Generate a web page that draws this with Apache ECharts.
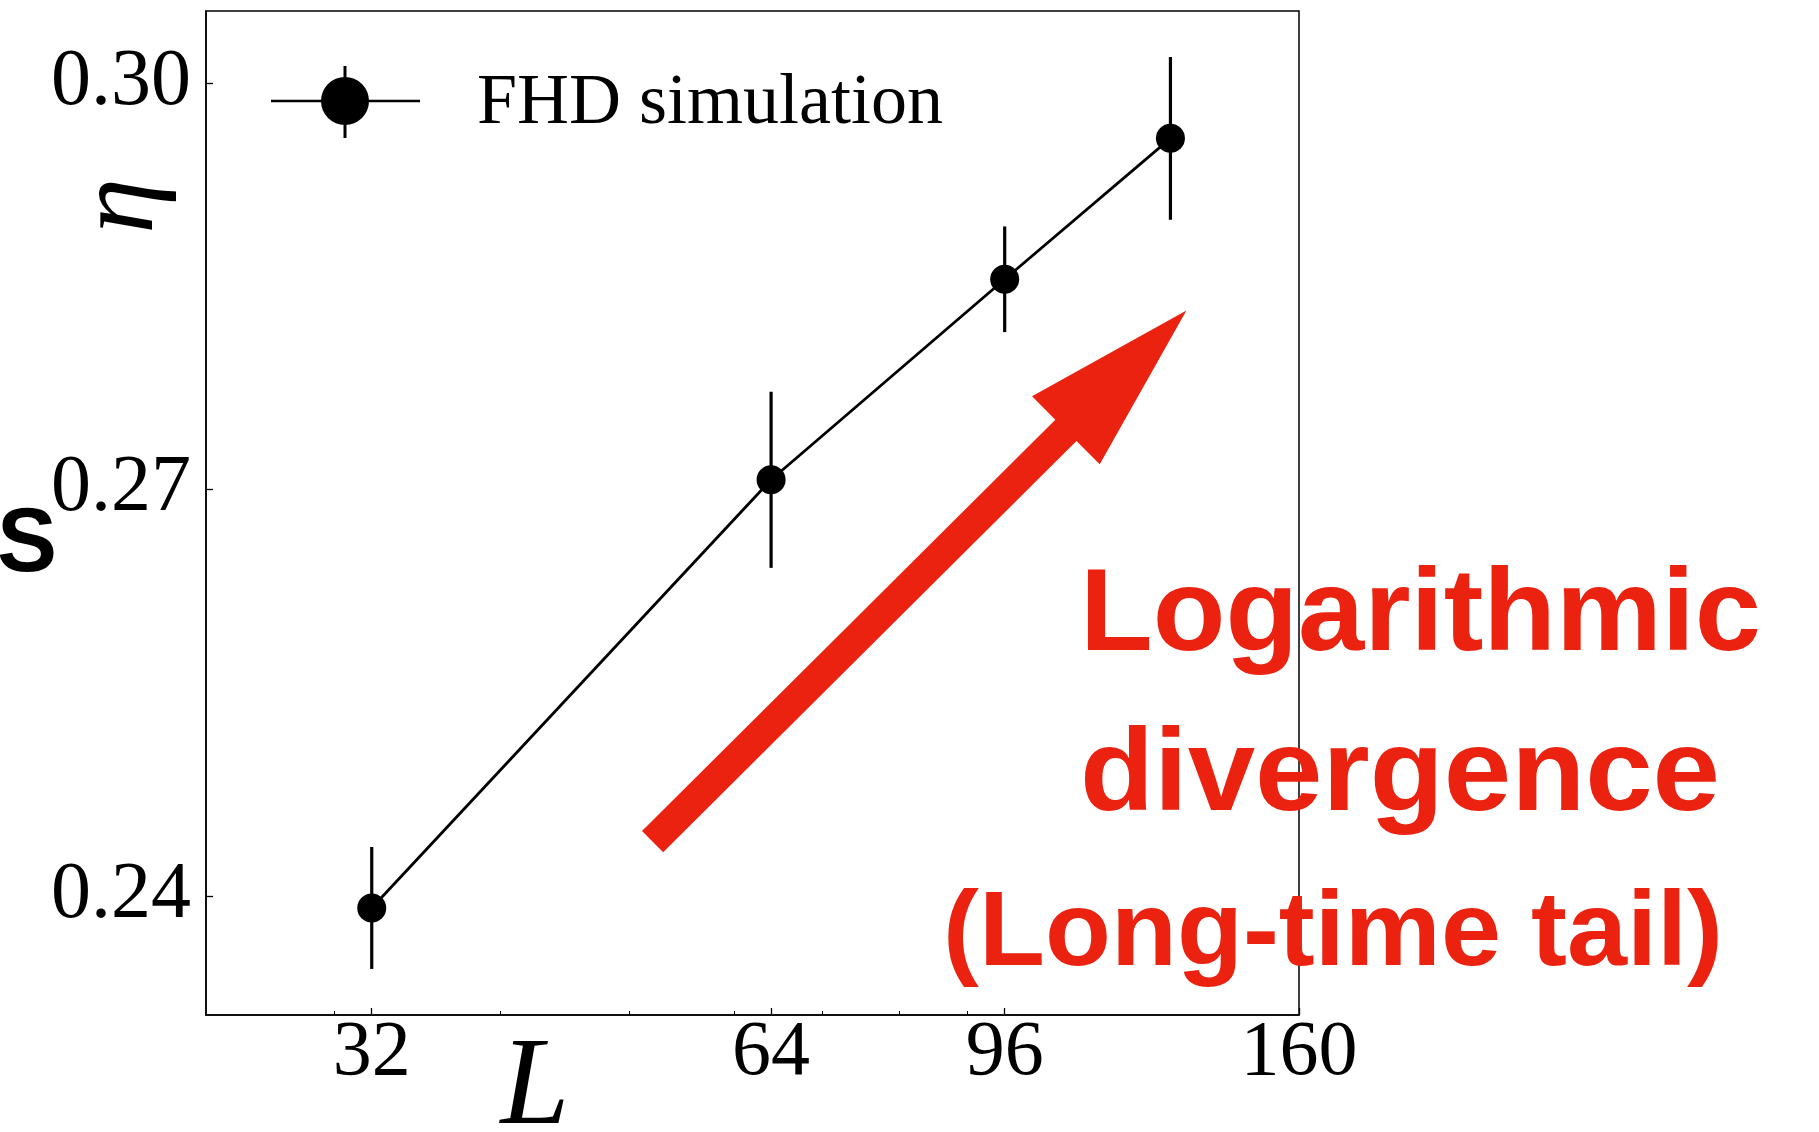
<!DOCTYPE html>
<html><head><meta charset="utf-8">
<script src="https://cdn.jsdelivr.net/npm/echarts@6/dist/echarts.min.js"></script>
<style>html,body{margin:0;padding:0;background:#fff}#c{width:1819px;height:1132px}</style>
</head><body><div id="c"></div>
<script>
// ---- data ----
const sizes = [32, 64, 96, 128];
const eta = [0.2391, 0.2707, 0.2855, 0.2959];
const etaErr = [0.0045, 0.0065, 0.0039, 0.0060];
const xTickValues = [32, 64, 96, 160];
const xMinorTickValues = [30, 40, 50, 60, 70, 80, 90];
const yTickValues = [0.24, 0.27, 0.30];
const legendLabel = 'FHD simulation';
const annotationLines = ['Logarithmic', 'divergence', '(Long-time tail)'];
const arrowTail = [52.1, 0.2440];
const arrowTip = [131.6, 0.2832];

const serif = 'Liberation Serif';
const sans = 'Liberation Sans';
const red = '#ec2210';

const chart = echarts.init(document.getElementById('c'), null, {renderer: 'canvas'});
const points = sizes.map((L, i) => [L, eta[i]]);
const errData = sizes.map((L, i) => [L, eta[i] - etaErr[i], eta[i] + etaErr[i]]);

chart.setOption({
  animation: false,
  backgroundColor: '#fff',
  grid: {left: 206, top: 11, right: 520, bottom: 117, show: true, borderColor: '#000', borderWidth: 1.5},
  xAxis: [{
    type: 'log', min: 24, max: 160, logBase: 10,
    axisLine: {show: true, lineStyle: {color: '#000', width: 1.5}},
    splitLine: {show: false}, minorTick: {show: false},
    axisTick: {show: true, inside: true, length: 7, lineStyle: {color: '#000', width: 1.3}, customValues: xTickValues},
    axisLabel: {customValues: xTickValues, fontFamily: serif, fontSize: 78, color: '#000', margin: 0,
      formatter: v => String(Math.round(v))}
  }, {
    type: 'log', min: 24, max: 160, logBase: 10, position: 'bottom',
    axisLine: {show: false}, splitLine: {show: false},
    axisTick: {show: true, inside: true, length: 4, lineStyle: {color: '#000', width: 1}, customValues: xMinorTickValues},
    axisLabel: {show: false}
  }],
  yAxis: {
    type: 'value', min: 0.2312, max: 0.3053,
    axisLine: {show: true, lineStyle: {color: '#000', width: 1.5}},
    splitLine: {show: false},
    axisTick: {show: true, inside: true, length: 7, lineStyle: {color: '#000', width: 1.3}, customValues: yTickValues},
    axisLabel: {customValues: yTickValues, fontFamily: serif, fontSize: 80, color: '#000', margin: 15,
      formatter: v => v.toFixed(2)}
  },
  series: [{
    type: 'custom', name: 'err', xAxisIndex: 0, yAxisIndex: 0, data: errData, z: 3,
    renderItem: (params, api) => {
      const a = api.coord([api.value(0), api.value(1)]);
      const b = api.coord([api.value(0), api.value(2)]);
      return {type: 'line', shape: {x1: a[0], y1: a[1], x2: b[0], y2: b[1]}, style: {stroke: '#000', lineWidth: 3.2}};
    }
  }, {
    type: 'line', name: legendLabel, data: points, xAxisIndex: 0, yAxisIndex: 0, z: 4,
    symbol: 'circle', symbolSize: 29, showSymbol: true,
    itemStyle: {color: '#000'}, lineStyle: {color: '#000', width: 2.8}
  }]
});

function buildGraphics() {
  const p0 = chart.convertToPixel({xAxisIndex: 0, yAxisIndex: 0}, arrowTail);
  const p1 = chart.convertToPixel({xAxisIndex: 0, yAxisIndex: 0}, arrowTip);
  const dx = p1[0] - p0[0], dy = p1[1] - p0[1];
  const len = Math.hypot(dx, dy);
  const u = [dx / len, dy / len], n = [-u[1], u[0]];
  const headLen = 170, shaftHalf = 15, headHalf = 48;
  const base = [p1[0] - u[0] * headLen, p1[1] - u[1] * headLen];
  const P = (pt, k) => [pt[0] + n[0] * k, pt[1] + n[1] * k];
  const arrowPts = [P(p0, shaftHalf), P(base, shaftHalf), P(base, headHalf), p1, P(base, -headHalf), P(base, -shaftHalf), P(p0, -shaftHalf)];

  const ctx = document.createElement('canvas').getContext('2d');
  const lineSpecs = [
    {x: 1080, y: 559, w: 681, size: 117},
    {x: 1080, y: 719, w: 640, size: 117},
    {x: 943, y: 884, w: 780, size: 105}
  ];
  const textEls = annotationLines.map((t, i) => {
    const s = lineSpecs[i];
    const font = 'bold ' + s.size + 'px ' + sans;
    ctx.font = font;
    const mw = ctx.measureText(t).width;
    return {type: 'text', x: s.x, y: s.y, scaleX: s.w / mw, z: 10,
      style: {text: t, font: font, fill: red, align: 'left', verticalAlign: 'top'}};
  });

  chart.setOption({graphic: [
    {type: 'polygon', shape: {points: arrowPts}, style: {fill: red}, z: 5},
    ...textEls,
    // legend
    {type: 'line', shape: {x1: 271, y1: 101, x2: 420, y2: 101}, style: {stroke: '#000', lineWidth: 2.5}, z: 10},
    {type: 'line', shape: {x1: 345, y1: 66, x2: 345, y2: 138}, style: {stroke: '#000', lineWidth: 3}, z: 10},
    {type: 'circle', shape: {cx: 345, cy: 101, r: 24}, style: {fill: '#000'}, z: 11},
    {type: 'text', x: 477, y: 68, z: 10, style: {text: legendLabel, font: 'normal 72px ' + serif, fill: '#000', align: 'left', verticalAlign: 'top'}},
    // axis titles
    {type: 'text', x: 535, y: 1028, z: 10, style: {text: 'L', font: 'italic 124px ' + serif, fill: '#000', align: 'center', verticalAlign: 'top'}},
    {type: 'text', x: 67, y: 206, rotation: Math.PI / 2, z: 10, style: {text: 'η', font: 'italic 112px ' + serif, fill: '#000', align: 'center', verticalAlign: 'top'}},
    {type: 'text', x: -3, y: 501, z: 10, style: {text: 'S', font: 'bold 90px ' + sans, fill: '#000', align: 'left', verticalAlign: 'top'}}
  ]});
}
buildGraphics();
</script>
</body></html>
